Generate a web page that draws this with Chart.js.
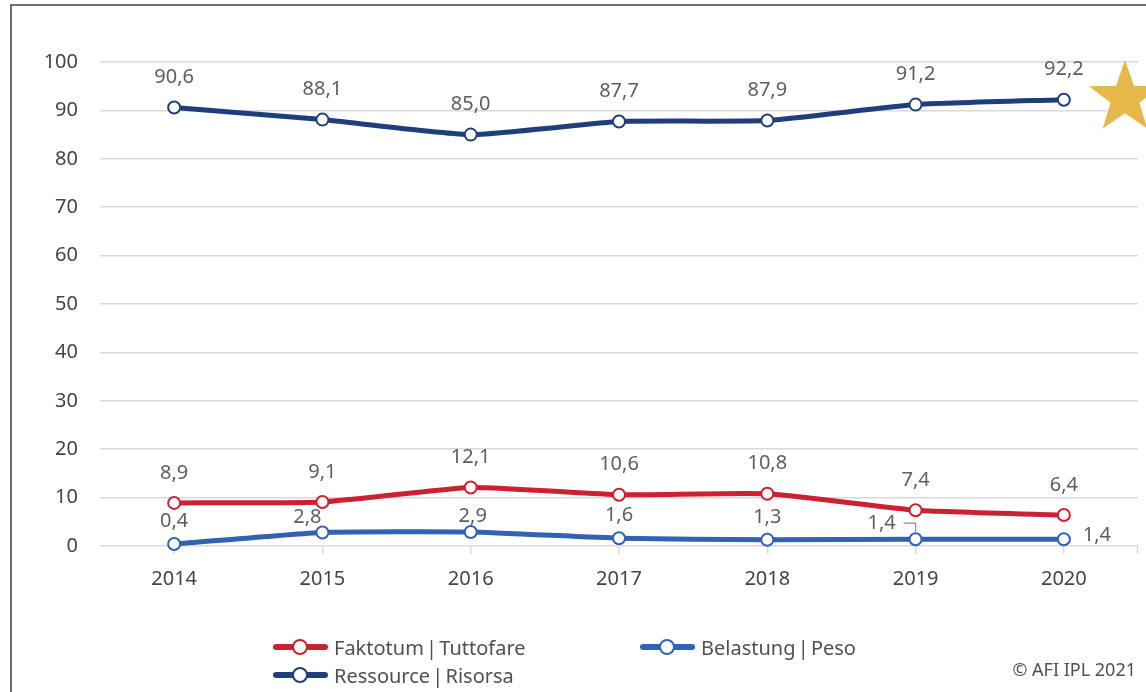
<!DOCTYPE html>
<html>
<head>
<meta charset="utf-8">
<script src="https://cdn.jsdelivr.net/npm/chart.js@4/dist/chart.umd.min.js"></script>
<style>
  html, body { margin: 0; padding: 0; background: #fff; }
  body { width: 1146px; height: 692px; position: relative; overflow: hidden; font-family: "Noto Sans", sans-serif; }
  #frame { position: absolute; left: 10px; top: 4px; width: 1200px; height: 800px; border-left: 2px solid #6e6e6e; border-top: 2px solid #6e6e6e; }
  #wrap { position: absolute; left: 0; top: 0; width: 1146px; height: 692px; }
  .leg { position: absolute; display: flex; align-items: center; height: 28px; font-size: 20px; color: #505050; white-space: nowrap; word-spacing: -3px; }
  .leg .sym { position: relative; width: 55px; height: 16px; margin-right: 6px; }
  .leg .sym .ln { position: absolute; left: 0; right: 0; top: 5px; height: 6px; border-radius: 3px; }
  .leg .sym .pt { position: absolute; left: 19px; top: 0px; width: 12px; height: 12px; border-radius: 50%; background: #fff; border: 2px solid; }
  #copy { position: absolute; right: 10px; top: 657px; font-size: 18px; color: #505050; }
</style>
</head>
<body>
<div id="frame"></div>
<div id="wrap"><canvas id="c" width="1146" height="692"></canvas></div>
<div id="legend"></div>
<div id="copy">© AFI IPL 2021</div>
<script>
const years = ["2014", "2015", "2016", "2017", "2018", "2019", "2020"];
const faktotum = [8.9, 9.1, 12.1, 10.6, 10.8, 7.4, 6.4];
const belastung = [0.4, 2.8, 2.9, 1.6, 1.3, 1.4, 1.4];
const ressource = [90.6, 88.1, 85.0, 87.7, 87.9, 91.2, 92.2];
const seriesNames = ["Faktotum | Tuttofare", "Belastung | Peso", "Ressource | Risorsa"];
const seriesColors = ["#CB2130", "#3262B2", "#1F3F7C"];
const yTicks = [0, 10, 20, 30, 40, 50, 60, 70, 80, 90, 100];

// label placement (style, not data): [dx, dy] per dataset / point
const defaultOffset = [0, -30];
const specialOffsets = {
  "1-0": [0, -23], "1-1": [-15, -15], "1-2": [2, -16], "1-3": [0, -23], "1-4": [0, -22],
  "1-5": [-34, -16, "leader"], "1-6": [33, -4]
};

const fmt = v => v.toFixed(1).replace(".", ",");

const labelPlugin = {
  id: "labels",
  afterDatasetsDraw(chart) {
    const ctx = chart.ctx;
    ctx.save();
    ctx.font = "20px 'Noto Sans'";
    ctx.fillStyle = "#5e5e5e";
    ctx.textAlign = "center";
    ctx.textBaseline = "middle";
    chart.data.datasets.forEach((ds, di) => {
      const meta = chart.getDatasetMeta(di);
      meta.data.forEach((pt, i) => {
        const off = specialOffsets[di + "-" + i] || defaultOffset;
        const x = pt.x + off[0], y = pt.y + off[1];
        ctx.fillText(fmt(ds.data[i]), x, y);
        if (off[2] === "leader") {
          ctx.strokeStyle = "#8a8a8a";
          ctx.lineWidth = 1.2;
          ctx.beginPath();
          ctx.moveTo(x + 22, y);
          ctx.lineTo(pt.x, y);
          ctx.lineTo(pt.x, pt.y - 7);
          ctx.stroke();
        }
      });
    });
    ctx.restore();
  }
};

const starPlugin = {
  id: "star",
  afterDraw(chart) {
    const ctx = chart.ctx;
    const area = chart.chartArea;
    const cx = area.right - 13;
    const cy = chart.scales.y.getPixelForValue(100) + 36;
    const R = 38, r = R * 0.40;
    ctx.save();
    ctx.fillStyle = "#E6B84C";
    ctx.beginPath();
    for (let k = 0; k < 10; k++) {
      const rad = k % 2 === 0 ? R : r;
      const a = -Math.PI / 2 + k * Math.PI / 5;
      const px = cx + rad * Math.cos(a), py = cy + rad * Math.sin(a);
      if (k === 0) ctx.moveTo(px, py); else ctx.lineTo(px, py);
    }
    ctx.closePath();
    ctx.fill();
    ctx.restore();
  }
};

const endTickPlugin = {
  id: "endtick",
  afterDraw(chart) {
    const ctx = chart.ctx, area = chart.chartArea;
    ctx.save();
    ctx.strokeStyle = "#d9d9d9";
    ctx.lineWidth = 1.5;
    ctx.beginPath();
    ctx.moveTo(area.right - 0.5, area.bottom);
    ctx.lineTo(area.right - 0.5, area.bottom + 8);
    ctx.stroke();
    ctx.restore();
  }
};

function mkDataset(idx, data) {
  return {
    label: seriesNames[idx],
    data: data,
    borderColor: seriesColors[idx],
    backgroundColor: "#ffffff",
    borderWidth: 5,
    pointRadius: 6,
    pointBorderWidth: 2,
    pointBackgroundColor: "#ffffff",
    pointBorderColor: seriesColors[idx],
    tension: 0.15,
    clip: false
  };
}

new Chart(document.getElementById("c"), {
  type: "line",
  data: {
    labels: years,
    datasets: [mkDataset(0, faktotum), mkDataset(1, belastung), mkDataset(2, ressource)]
  },
  options: {
    responsive: false,
    animation: false,
    layout: { padding: { top: 62, right: 6, bottom: 96, left: 0 } },
    plugins: { legend: { display: false }, tooltip: { enabled: false } },
    scales: {
      x: {
        offset: true,
        grid: { offset: false, drawOnChartArea: false, drawTicks: true, tickLength: 8, color: "#d9d9d9", lineWidth: 1.5 },
        border: { display: false },
        ticks: { font: { family: "Noto Sans", size: 20 }, color: "#444", padding: 13, maxRotation: 0 },
        afterFit(s) { s.height = 50; }
      },
      y: {
        min: 0, max: 100,
        afterBuildTicks(s) { s.ticks = yTicks.map(v => ({ value: v })); },
        grid: { color: "#d9d9d9", lineWidth: 1.5, drawTicks: false },
        border: { display: false },
        ticks: { font: { family: "Noto Sans", size: 20 }, color: "#444", padding: 22 },
        afterFit(s) { s.width = 100; }
      }
    }
  },
  plugins: [labelPlugin, starPlugin, endTickPlugin]
});

// HTML legend
const legendPos = [[273, 633], [640, 633], [273, 661]];
const legendEl = document.getElementById("legend");
seriesNames.forEach((name, i) => {
  const d = document.createElement("div");
  d.className = "leg";
  d.style.left = legendPos[i][0] + "px";
  d.style.top = legendPos[i][1] + "px";
  d.innerHTML = '<div class="sym"><div class="ln" style="background:' + seriesColors[i] + '"></div><div class="pt" style="border-color:' + seriesColors[i] + '"></div></div><span>' + name + '</span>';
  legendEl.appendChild(d);
});
</script>
</body>
</html>
